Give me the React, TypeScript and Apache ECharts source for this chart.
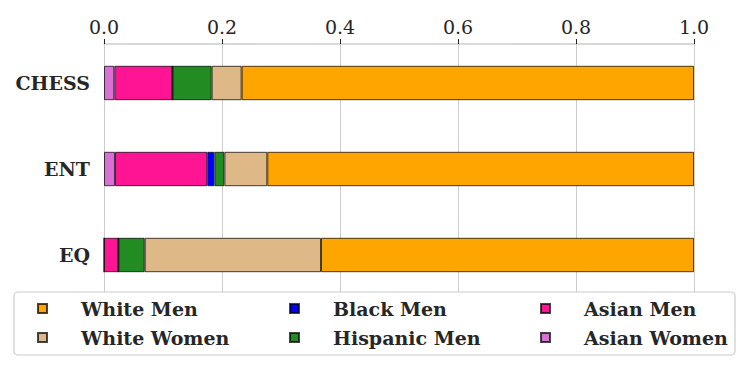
import React, { useEffect, useRef } from "react";
import * as echarts from "echarts";

const categories = ["CHESS", "ENT", "EQ"];
const asianWomen = [0.0175, 0.0186, 0];
const asianMen = [0.0985, 0.1564, 0.0243];
const blackMen = [0, 0.012, 0];
const hispanicMen = [0.0665, 0.017, 0.0447];
const whiteWomen = [0.0508, 0.0728, 0.2988];
const whiteMen = [0.7667, 0.7232, 0.6322];
const xTicks = { min: 0, max: 1, interval: 0.2 };

const FONT = "DejaVu Serif";

export default function App() {
  const ref = useRef<HTMLDivElement>(null);
  useEffect(() => {
    if (!ref.current) return;
    const chart = echarts.init(ref.current, undefined, { renderer: "svg" });
    const border = { borderColor: "rgba(0,0,0,0.72)", borderWidth: 1 };
    const mk = (name: string, data: number[], color: string) => ({
      name,
      type: "bar",
      stack: "total",
      data,
      barWidth: "40%",
      itemStyle: { color, ...border },
      z: 2,
    });
    const legendBase = {
      orient: "vertical",
      top: 298,
      padding: 0,
      itemGap: 8,
      itemWidth: 9,
      itemHeight: 9,
      icon: "rect",
      z: 5,
      textStyle: {
        fontFamily: FONT,
        fontWeight: "bold",
        fontSize: 19,
        color: "#262626",
        lineHeight: 21,
        padding: [0, 0, 0, 29],
      },
    };
    chart.setOption({
      animation: false,
      grid: { left: 104, right: 53, top: 40, height: 258 },
      xAxis: {
        type: "value",
        position: "top",
        offset: -4,
        min: xTicks.min,
        max: xTicks.max,
        interval: xTicks.interval,
        axisLine: { show: true, lineStyle: { color: "#cccccc", width: 1.5 } },
        axisTick: { show: true, length: 5, lineStyle: { color: "#222" } },
        axisLabel: {
          fontFamily: FONT,
          fontSize: 19,
          color: "#262626",
          margin: 8,
          formatter: (v: number) => v.toFixed(1),
        },
        splitLine: { show: true, lineStyle: { color: "#cccccc", width: 1 } },
      },
      yAxis: {
        type: "category",
        data: categories,
        inverse: true,
        axisLine: { show: false },
        axisTick: { show: false },
        axisLabel: {
          fontFamily: FONT,
          fontWeight: "bold",
          fontSize: 19,
          color: "#262626",
          margin: 14,
        },
      },
      legend: [
        { ...legendBase, left: 37, data: ["White Men", "White Women"] },
        { ...legendBase, left: 289, data: ["Black Men", "Hispanic Men"] },
        { ...legendBase, left: 540, data: ["Asian Men", "Asian Women"] },
      ],
      graphic: [
        {
          type: "rect",
          z: 3,
          shape: { x: 14, y: 292, width: 721, height: 63, r: 4 },
          style: { fill: "#ffffff", stroke: "#cccccc", lineWidth: 1.2 },
        },
      ],
      series: [
        mk("Asian Women", asianWomen, "#DA70D6"),
        mk("Asian Men", asianMen, "#FF1493"),
        mk("Black Men", blackMen, "#0000FF"),
        mk("Hispanic Men", hispanicMen, "#228B22"),
        mk("White Women", whiteWomen, "#DEB887"),
        mk("White Men", whiteMen, "#FFA500"),
      ],
    });
    return () => chart.dispose();
  }, []);
  return (
    <div
      ref={ref}
      style={{ width: 747, height: 367, position: "absolute", left: 0, top: 0 }}
    />
  );
}
